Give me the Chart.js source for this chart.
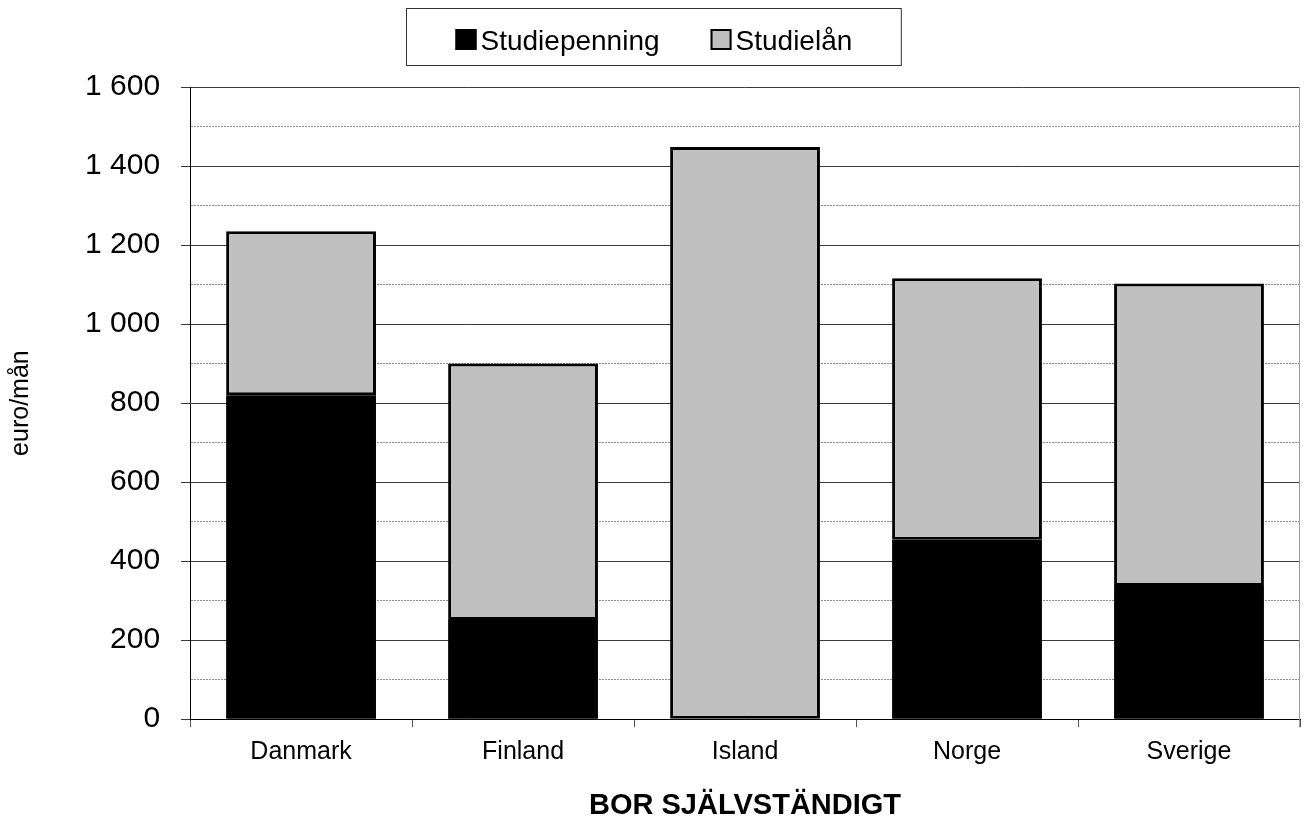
<!DOCTYPE html>
<html>
<head>
<meta charset="utf-8">
<script src="https://cdn.jsdelivr.net/npm/chart.js@4/dist/chart.umd.min.js"></script>
<style>
  html, body { margin: 0; padding: 0; background: #fff; }
  #wrap { width: 1306px; height: 823px; }
</style>
</head>
<body>
<div id="wrap"><canvas id="graf"></canvas></div>
<script>
const lander = ['Danmark', 'Finland', 'Island', 'Norge', 'Sverige'];
const studiepenning = [820, 251, 0, 454, 337];
const studielan = [415, 649, 1448, 662, 766];
const serieNamn = ['Studiepenning', 'Studielån'];
const yTitel = 'euro/mån';
const xTitel = 'BOR SJÄLVSTÄNDIGT';

const FONT = "'Liberation Sans', Arial, sans-serif";

const formatTal = (v) => {
    // mellanslag som tusentalsavgränsare, som i originalet
    return String(v).replace(/\B(?=(\d{3})+(?!\d))/g, ' ');
};

// egen legend med ram runt, ritad ovanför diagrammet
const legendRuta = {
    id: 'legendRuta',
    afterDraw(chart) {
        const ctx = chart.ctx;
        const ds = chart.data.datasets;
        ctx.save();
        ctx.font = `28px ${FONT}`;
        const box = 21, gapText = 4, gapItem = 51, padX = 49;
        const bredder = ds.map(d => ctx.measureText(d.label).width);
        let total = 0;
        bredder.forEach((w, i) => { total += box + gapText + w + (i < ds.length - 1 ? gapItem : 0); });
        const ramBredd = total + padX * 2;
        const ramX = Math.round(chart.width / 2 - ramBredd / 2) + 0.5;
        ctx.strokeStyle = '#333';
        ctx.lineWidth = 1;
        ctx.strokeRect(ramX, 8.5, ramBredd, 57);
        let x = ramX + padX;
        ds.forEach((d, i) => {
            ctx.fillStyle = d.backgroundColor;
            ctx.fillRect(x, 29, box, box);
            ctx.strokeStyle = '#000';
            ctx.lineWidth = 2;
            ctx.strokeRect(x + 1, 30, box - 2, box - 2);
            ctx.fillStyle = '#000';
            ctx.textBaseline = 'alphabetic';
            ctx.fillText(d.label, x + box + gapText, 50);
            x += box + gapText + bredder[i] + gapItem;
        });
        ctx.restore();
    }
};

// grå kant till höger om diagramytan
const hogerKant = {
    id: 'hogerKant',
    beforeDatasetsDraw(chart) {
        const { ctx, chartArea } = chart;
        ctx.save();
        ctx.strokeStyle = '#999';
        ctx.lineWidth = 1;
        ctx.beginPath();
        ctx.moveTo(chartArea.right - 0.5, chartArea.top);
        ctx.lineTo(chartArea.right - 0.5, chartArea.bottom + 8);
        ctx.stroke();
        ctx.restore();
    }
};

const main = () => {
    const ctx = document.getElementById('graf');
    if (!ctx) throw 'graf hittades inte!';

    new Chart(ctx, {
        type: 'bar',
        data: {
            labels: lander,
            datasets: [{
                label: serieNamn[0],
                data: studiepenning,
                backgroundColor: '#000000',
                borderColor: '#000000',
                borderWidth: 0,
                barPercentage: 0.675,
                categoryPercentage: 1
            }, {
                label: serieNamn[1],
                data: studielan,
                backgroundColor: '#c0c0c0',
                borderColor: '#000000',
                borderWidth: 3,
                borderSkipped: false,
                barPercentage: 0.675,
                categoryPercentage: 1
            }]
        },
        plugins: [legendRuta, hogerKant],
        options: {
            responsive: true,
            maintainAspectRatio: false,
            animation: false,
            layout: { padding: { top: 87, right: 6, left: 0, bottom: 0 } },
            plugins: {
                legend: { display: false },
                tooltip: { enabled: false }
            },
            scales: {
                x: {
                    stacked: true,
                    grid: {
                        offset: true,
                        drawOnChartArea: false,
                        drawTicks: true,
                        tickLength: 8,
                        tickColor: '#555'
                    },
                    border: { color: '#000', width: 1 },
                    ticks: {
                        color: '#000',
                        padding: 10,
                        font: { family: FONT, size: 25 }
                    },
                    title: {
                        display: true,
                        text: xTitel,
                        color: '#000',
                        padding: { top: 11, bottom: 0 },
                        font: { family: FONT, size: 29, weight: 'bold' }
                    }
                },
                y: {
                    stacked: true,
                    min: 0,
                    max: 1600,
                    grid: {
                        color: (c) => (c.tick && c.tick.value % 200 !== 0) ? '#8a8a8a' : '#3a3a3a',
                        lineWidth: 1,
                        tickLength: 9,
                        tickColor: (c) => (c.tick && c.tick.value % 200 !== 0) ? 'rgba(0,0,0,0)' : '#3a3a3a'
                    },
                    border: {
                        color: '#000',
                        width: 1,
                        dash: (c) => (c.tick && c.tick.value % 200 !== 0) ? [2, 1] : []
                    },
                    ticks: {
                        stepSize: 100,
                        autoSkip: false,
                        color: '#000',
                        padding: 21,
                        font: { family: FONT, size: 30 },
                        callback: (v) => v % 200 === 0 ? formatTal(v) : ''
                    },
                    title: {
                        display: true,
                        text: yTitel,
                        color: '#000',
                        padding: { top: 6, bottom: 28 },
                        font: { family: FONT, size: 25 }
                    }
                }
            }
        }
    });
};
main();
</script>
</body>
</html>
